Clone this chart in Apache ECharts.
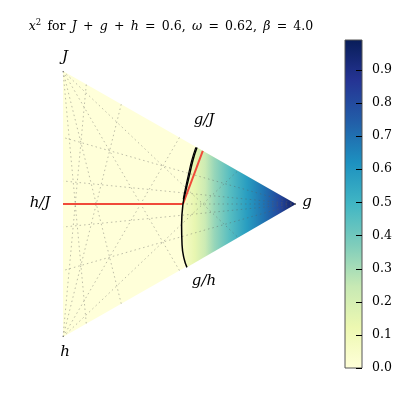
<!DOCTYPE html>
<html><head><meta charset="utf-8">
<script src="https://cdn.jsdelivr.net/npm/echarts@6/dist/echarts.min.js"></script>
<style>html,body{margin:0;padding:0;background:#fff}#c{width:408px;height:408px}</style>
</head><body><div id="c"></div>
<script>
// ---- data ----
const S = 0.57735; // half-height of triangle in data units (vertices J, h, g)
const vertexJ = [0, S], vertexH = [0, -S], vertexG = [1, 0];
// x^2 value across the ordered region (x position -> value)
const gradX   = [0.508, 0.525, 0.565, 0.61, 0.65, 0.715, 0.79, 0.86, 0.93, 0.985, 1.0];
const gradVal = [0.05, 0.07, 0.14, 0.23, 0.33, 0.45, 0.58, 0.69, 0.81, 0.94, 0.99];
// phase boundary (black curve)
const boundary = [[0.575,0.245],[0.558,0.191],[0.545,0.135],[0.528,0.061],[0.515,0],[0.509,-0.091],[0.511,-0.178],[0.519,-0.235],[0.532,-0.275]];
const boundary2 = [[0.570,0.246],[0.553,0.191],[0.540,0.135],[0.524,0.061],[0.516,0.02]];
// red lines
const redH = [[0,0],[0.515,0]];
const redS = [[0.515,0],[0.60,0.231]];
// mesh (dashed) segments
const meshSeg = [
  [vertexJ,[0.1,-0.52]],[vertexJ,[0.25,-0.433]],[vertexJ,[0.5,-0.289]],[vertexJ,[0.75,-0.144]],
  [vertexH,[0.1,0.52]],[vertexH,[0.25,0.433]],[vertexH,[0.5,0.289]],[vertexH,[0.75,0.144]],
  [vertexG,[0,0.289]],[vertexG,[0,0.1]],[vertexG,[0,0]],[vertexG,[0,-0.1]],[vertexG,[0,-0.289]]
];
const cbTicks = [0,0.1,0.2,0.3,0.4,0.5,0.6,0.7,0.8,0.9];
const VMAX = 0.99;
const YLGNBU = ['#ffffd9','#edf8b1','#c7e9b4','#7fcdbb','#41b6c4','#1d91c0','#225ea8','#253494','#081d58'];

function hex(c){return [parseInt(c.slice(1,3),16),parseInt(c.slice(3,5),16),parseInt(c.slice(5,7),16)];}
function colorFor(v){
  let t = Math.max(0, Math.min(1, v / VMAX)) * (YLGNBU.length - 1);
  let i = Math.min(Math.floor(t), YLGNBU.length - 2), f = t - i;
  const a = hex(YLGNBU[i]), b = hex(YLGNBU[i+1]);
  return 'rgb(' + a.map((x,k)=>Math.round(x + (b[k]-x)*f)).join(',') + ')';
}

const chart = echarts.init(document.getElementById('c'));
const serif = '"DejaVu Serif", "Liberation Serif", serif';
const E = '\u2002';

const option = {
  animation: false,
  grid: [
    {left: 63, top: 71, width: 233, height: 266},
    {left: 345, top: 40, width: 17, height: 328}
  ],
  xAxis: [
    {gridIndex:0, type:'value', min:0, max:1, show:false},
    {gridIndex:1, type:'value', min:0, max:1, show:false}
  ],
  yAxis: [
    {gridIndex:0, type:'value', min:-S, max:S, show:false},
    {gridIndex:1, type:'value', min:0, max:VMAX, position:'right', z:10,
     axisLine:{show:false}, splitLine:{show:false}, axisTick:{show:false},
     axisLabel:{show:true, margin:10, customValues: cbTicks, formatter: v => v.toFixed(1),
       color:'#000', fontFamily: serif, fontSize: 12.5}}
  ],
  series: [
    { // background triangle
      type:'custom', xAxisIndex:0, yAxisIndex:0, data:[[0]], silent:true, z:1,
      renderItem: (p, api) => ({
        type:'polygon', shape:{points:[api.coord(vertexJ), api.coord(vertexH), api.coord(vertexG)]},
        style:{fill: YLGNBU[0], stroke:null}
      })
    },
    { // ordered region gradient
      type:'custom', xAxisIndex:0, yAxisIndex:0, data:[[0]], silent:true, z:2,
      renderItem: (p, api) => {
        const pts = [api.coord(vertexG)];
        boundary.slice().reverse().forEach(q => pts.push(api.coord(q)));
        const x0 = api.coord([gradX[0],0])[0], x1 = api.coord([1,0])[0];
        const stops = gradX.map((x,i)=>({offset:(x-gradX[0])/(1-gradX[0]), color: colorFor(gradVal[i])}));
        return {type:'polygon', shape:{points:pts},
          style:{fill: new echarts.graphic.LinearGradient(x0,0,x1,0,stops,true), stroke:null}};
      }
    },
    { // mesh
      type:'custom', xAxisIndex:0, yAxisIndex:0, data: meshSeg.map((s,i)=>[i]), silent:true, z:3,
      renderItem: (p, api) => {
        const s = meshSeg[p.dataIndex];
        const a = api.coord(s[0]), b = api.coord(s[1]);
        return {type:'line', shape:{x1:a[0],y1:a[1],x2:b[0],y2:b[1]},
          style:{stroke:'rgba(90,90,90,0.5)', lineWidth:0.8, lineDash:[1.5,3]}};
      }
    },
    {type:'line', xAxisIndex:0, yAxisIndex:0, data: redH, showSymbol:false, z:4,
     lineStyle:{color:'#f04a3a', width:2}},
    {type:'line', xAxisIndex:0, yAxisIndex:0, data: redS, showSymbol:false, z:4,
     lineStyle:{color:'#f04a3a', width:2}},
    {type:'line', xAxisIndex:0, yAxisIndex:0, data: boundary, showSymbol:false, smooth:true, z:5,
     lineStyle:{color:'#000', width:1.5}},
    {type:'line', xAxisIndex:0, yAxisIndex:0, data: boundary2, showSymbol:false, smooth:true, z:5,
     lineStyle:{color:'#000', width:1.2}},
    { // colorbar with inside ticks
      type:'custom', xAxisIndex:1, yAxisIndex:1, data:[[0]], silent:true, z:1,
      renderItem: (p, api) => {
        const a = api.coord([0, VMAX]), b = api.coord([1, 0]);
        const stops = YLGNBU.map((c,i)=>({offset: i/(YLGNBU.length-1), color:c}));
        const children = [{type:'rect', shape:{x:a[0], y:a[1], width:b[0]-a[0], height:b[1]-a[1]},
          style:{fill: new echarts.graphic.LinearGradient(0,1,0,0,stops), stroke:'#555', lineWidth:1}}];
        cbTicks.forEach(t => {
          const q = api.coord([1, t]);
          const y = Math.round(q[1]) + 0.5;
          children.push({type:'line', shape:{x1:q[0]-6, y1:y, x2:q[0], y2:y}, style:{stroke:'#000', lineWidth:1}});
        });
        return {type:'group', children};
      }
    }
  ],
  graphic: [
    {type:'text', x:171, y:27, silent:true, style:{
      text:'{i|x}{s|2}'+E+'for'+E+'{i|J}'+E+'+'+E+'{i|g}'+E+'+'+E+'{i|h}'+E+'='+E+'0.6,'+E+'{i|ω}'+E+'='+E+'0.62,'+E+'{i|β}'+E+'='+E+'4.0',
      align:'center', verticalAlign:'middle', fontFamily: serif, fontSize: 12.5, fill:'#000',
      rich:{i:{fontStyle:'italic', fontFamily: serif, fontSize:12.5}, s:{fontSize:8.5, fontFamily: serif, padding:[0,0,8,0]}}
    }},
    {type:'text', x:65, y:57, silent:true, style:{text:'J', align:'center', verticalAlign:'middle', fontFamily:serif, fontStyle:'italic', fontSize:15, fill:'#000'}},
    {type:'text', x:40, y:203, silent:true, style:{text:'h/J', align:'center', verticalAlign:'middle', fontFamily:serif, fontStyle:'italic', fontSize:15, fill:'#000'}},
    {type:'text', x:204, y:120, silent:true, style:{text:'g/J', align:'center', verticalAlign:'middle', fontFamily:serif, fontStyle:'italic', fontSize:15, fill:'#000'}},
    {type:'text', x:307, y:202, silent:true, style:{text:'g', align:'center', verticalAlign:'middle', fontFamily:serif, fontStyle:'italic', fontSize:15, fill:'#000'}},
    {type:'text', x:204, y:281, silent:true, style:{text:'g/h', align:'center', verticalAlign:'middle', fontFamily:serif, fontStyle:'italic', fontSize:15, fill:'#000'}},
    {type:'text', x:65, y:352, silent:true, style:{text:'h', align:'center', verticalAlign:'middle', fontFamily:serif, fontStyle:'italic', fontSize:15, fill:'#000'}}
  ]
};
chart.setOption(option);
</script></body></html>
